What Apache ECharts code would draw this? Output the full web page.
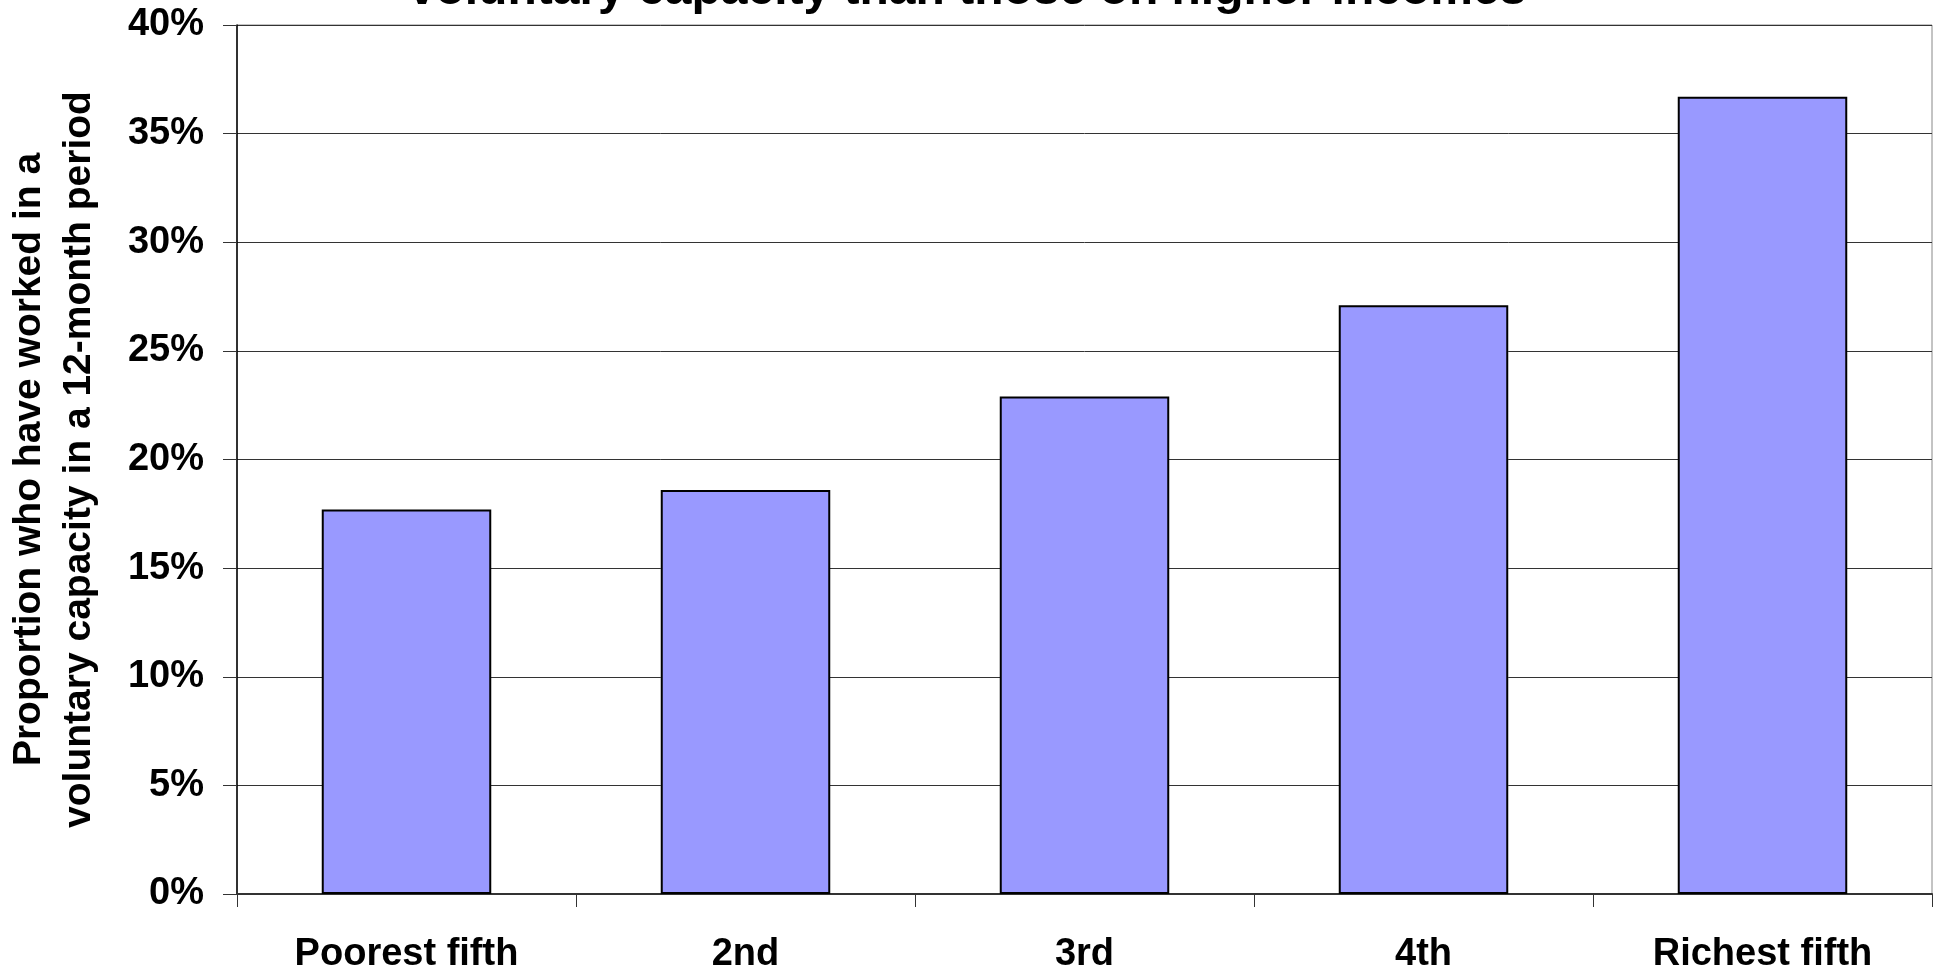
<!DOCTYPE html>
<html>
<head>
<meta charset="utf-8">
<script src="https://cdn.jsdelivr.net/npm/echarts@6/dist/echarts.min.js"></script>
<style>
  html, body { margin: 0; padding: 0; background: #fff; }
  #chart { width: 1935px; height: 971px; }
</style>
</head>
<body>
<div id="chart"></div>
<script>
// data
var categories = ['Poorest fifth', '2nd', '3rd', '4th', 'Richest fifth']
var volunteerShare = [17.7, 18.6, 22.9, 27.1, 36.7]
var titleText = 'voluntary capacity than those on higher incomes'
var yAxisTitle = 'Proportion who have worked in a\nvoluntary capacity in a 12-month period'

var font = '"Liberation Sans", Arial, sans-serif'

var chart = echarts.init(document.getElementById('chart'))
chart.setOption({
  backgroundColor: '#ffffff',
  animation: false,
  title: {
    text: titleText,
    left: 'center',
    top: -38,
    textStyle: {
      fontFamily: font,
      fontSize: 48,
      fontWeight: 'bold',
      color: '#000'
    }
  },
  grid: {
    left: 237,
    right: 3,
    top: 25,
    bottom: 77,
    containLabel: false,
    outerBoundsMode: 'none',
    show: true,
    borderColor: '#888',
    borderWidth: 1
  },
  xAxis: {
    type: 'category',
    data: categories,
    axisLine: { lineStyle: { color: '#333', width: 2 } },
    axisTick: { show: true, length: 13, lineStyle: { color: '#333' } },
    axisLabel: {
      margin: 42,
      fontFamily: font,
      fontSize: 38,
      fontWeight: 'bold',
      color: '#000'
    }
  },
  yAxis: {
    type: 'value',
    min: 0,
    max: 40,
    interval: 5,
    name: yAxisTitle,
    nameLocation: 'middle',
    nameGap: 133,
    nameTextStyle: {
      fontFamily: font,
      fontSize: 39,
      fontWeight: 'bold',
      lineHeight: 50,
      color: '#000'
    },
    axisLine: { show: true, lineStyle: { color: '#000', width: 1.5 } },
    axisTick: { show: true, length: 14, lineStyle: { color: '#333' } },
    axisLabel: {
      margin: 33,
      formatter: '{value}%',
      fontFamily: font,
      fontSize: 38,
      fontWeight: 'bold',
      color: '#000'
    },
    splitLine: { show: true, lineStyle: { color: '#333', width: 1 } }
  },
  series: [{
    type: 'bar',
    data: volunteerShare,
    barWidth: '50%',
    itemStyle: {
      color: '#9999ff',
      borderColor: '#000',
      borderWidth: 2
    }
  }]
})
</script>
</body>
</html>
